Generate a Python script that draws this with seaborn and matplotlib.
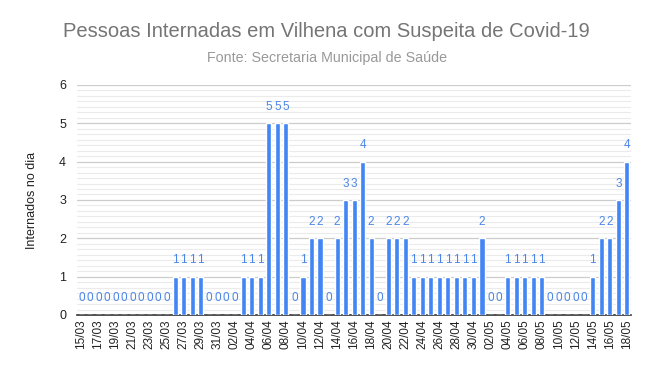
import pandas as pd
import numpy as np
import seaborn as sns
from matplotlib import pyplot as plt
from matplotlib.ticker import MultipleLocator

# daily values, 15/03 .. 18/05
dates = list(pd.date_range("2020-03-15", "2020-05-18", freq="D").strftime("%d/%m"))
internados = (
    [0] * 11          # 15/03 - 25/03
    + [1] * 4         # 26/03 - 29/03
    + [0] * 4         # 30/03 - 02/04
    + [1] * 3         # 03/04 - 05/04
    + [5] * 3         # 06/04 - 08/04
    + [0, 1, 2, 2, 0, 2, 3, 3, 4, 2, 0]  # 09/04 - 19/04
    + [2] * 3         # 20/04 - 22/04
    + [1] * 8         # 23/04 - 30/04
    + [2, 0, 0]       # 01/05 - 03/05
    + [1] * 5         # 04/05 - 08/05
    + [0] * 5         # 09/05 - 13/05
    + [1, 2, 2, 3, 4]  # 14/05 - 18/05
)

df = pd.DataFrame({"data": dates, "internados": internados})

sns.set_style("white")
plt.rcParams["font.family"] = ["Liberation Sans", "DejaVu Sans"]

fig = plt.figure(figsize=(6.48, 3.71), dpi=100)
ax = fig.add_axes([0.119, 0.151, 0.855, 0.62])

sns.barplot(data=df, x="data", y="internados", color="#4285f4", width=0.6,
            saturation=1, ax=ax, zorder=3)

for i, v in enumerate(internados):
    ax.annotate(str(v), (i, v), xytext=(0, 8 if v == 0 else 7.5),
                textcoords="offset points",
                ha="center", va="bottom", fontsize=8.5, color="#4a86e8")

ax.set_ylim(0, 6)
ax.set_xlim(-0.5, len(dates) - 0.5)
ax.yaxis.set_major_locator(MultipleLocator(1))
ax.yaxis.set_minor_locator(MultipleLocator(1 / 7))
ax.grid(axis="y", which="major", color="#cccccc", linewidth=0.9, zorder=0)
ax.grid(axis="y", which="minor", color="#ebebeb", linewidth=0.8, zorder=0)
ax.set_axisbelow(True)

ax.set_xticks(range(0, len(dates), 2))
ax.set_xticklabels(dates[::2], rotation=90, fontsize=8.5, color="#222222")
ax.tick_params(axis="y", labelsize=9, colors="#222222", length=0, pad=8)
ax.tick_params(axis="x", length=0, pad=3)
ax.tick_params(which="minor", length=0)

for s in ["top", "right", "left"]:
    ax.spines[s].set_visible(False)
ax.spines["bottom"].set_color("#333333")
ax.spines["bottom"].set_linewidth(1.2)

ax.set_xlabel(None)
ax.set_ylabel("Internados no dia", fontsize=9, color="#222222", labelpad=15)

fig.text(0.503, 0.914, "Pessoas Internadas em Vilhena com Suspeita de Covid-19",
         ha="center", va="center", fontsize=14.5, color="#757575")
fig.text(0.505, 0.844, "Fonte: Secretaria Municipal de Saúde",
         ha="center", va="center", fontsize=10.3, color="#999999")

fig.savefig("out.png", dpi=100)
